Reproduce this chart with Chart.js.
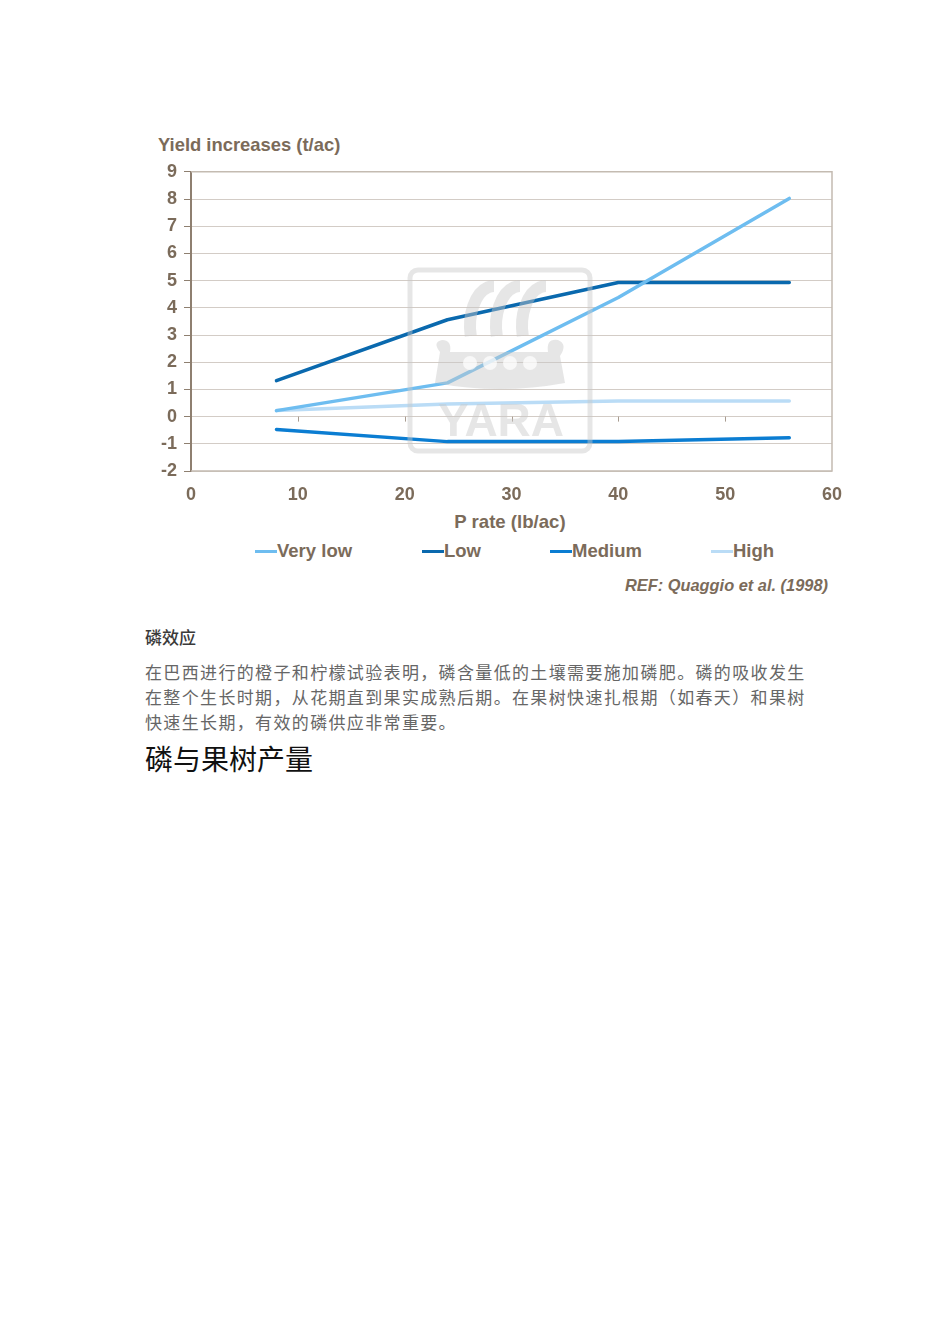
<!DOCTYPE html>
<html>
<head>
<meta charset="utf-8">
<script src="https://cdn.jsdelivr.net/npm/chart.js@4.4.1/dist/chart.umd.min.js"></script>
<style>
  html,body{margin:0;padding:0;background:#fff;}
  body{width:950px;height:1344px;position:relative;overflow:hidden;}
  .t{position:absolute;white-space:nowrap;font-family:"Liberation Sans",Arial,sans-serif;font-weight:bold;color:#7B6B5A;}
  #wrap{position:absolute;left:140px;top:154px;width:720px;height:356px;}
  .cjk{position:absolute;font-family:"Noto Sans CJK SC",sans-serif;white-space:nowrap;}
</style>
</head>
<body>
<div class="t" id="ytitle" style="left:158px;top:134px;font-size:18.4px;">Yield increases (t/ac)</div>
<div id="wrap"><canvas id="c" width="720" height="356"></canvas></div>
<div class="t" id="xtitle" style="left:0;width:1020px;text-align:center;top:511px;font-size:18.6px;">P rate (lb/ac)</div>
<div id="legend"></div>
<div class="t" style="right:122px;top:576px;font-size:16.4px;font-style:italic;">REF: Quaggio et al. (1998)</div>

<div class="cjk" style="left:145px;top:624px;font-size:17px;color:#3a3a3a;font-weight:500;">磷效应</div>
<div class="cjk" style="left:145px;top:659px;font-size:17px;line-height:25px;color:#666;letter-spacing:1.35px;">在巴西进行的橙子和柠檬试验表明，磷含量低的土壤需要施加磷肥。磷的吸收发生<br>在整个生长时期，从花期直到果实成熟后期。在果树快速扎根期（如春天）和果树<br>快速生长期，有效的磷供应非常重要。</div>
<div class="cjk" style="left:145px;top:738px;font-size:28px;color:#111;">磷与果树产量</div>

<script>
// ---- data ----
const seriesNames = ["Very low", "Low", "Medium", "High"];
const seriesColors = ["#6EBDF0", "#0A69AE", "#0B7DD2", "#BADCF6"];
const pRate = [8, 24, 40, 56];
const veryLow = [0.22, 1.24, 4.38, 8.02];
const low = [1.32, 3.56, 4.93, 4.93];
const medium = [-0.47, -0.92, -0.92, -0.78];
const high = [0.22, 0.46, 0.57, 0.57];
const xTicks = [0, 10, 20, 30, 40, 50, 60];
const yTicks = [-2, -1, 0, 1, 2, 3, 4, 5, 6, 7, 8, 9];

const seriesValues = [veryLow, low, medium, high];
const textColor = "#7B6B5A";

// legend (HTML)
const legendPos = [255, 422, 550, 711];
const lg = document.getElementById('legend');
seriesNames.forEach((n, i) => {
  const m = document.createElement('div');
  m.style.cssText = `position:absolute;left:${legendPos[i]}px;top:550px;width:22px;height:3px;background:${seriesColors[i]};`;
  lg.appendChild(m);
  const t = document.createElement('div');
  t.className = 't';
  t.style.cssText = `left:${legendPos[i] + 22}px;top:540px;font-size:18.5px;`;
  t.textContent = n;
  lg.appendChild(t);
});

const OX = 140, OY = 154;
const frame = {
  id: 'frame',
  beforeDatasetsDraw(chart) {
    const {ctx, chartArea: a, scales} = chart;
    ctx.save();
    ctx.strokeStyle = "#C4BBB1";
    ctx.lineWidth = 1.5;
    ctx.beginPath();
    ctx.moveTo(a.left, a.top); ctx.lineTo(a.right, a.top); ctx.lineTo(a.right, a.bottom); ctx.lineTo(a.left, a.bottom);
    ctx.stroke();
    // small ticks on zero line
    const y0 = scales.y.getPixelForValue(0);
    ctx.strokeStyle = "#A89C90";
    ctx.lineWidth = 1;
    [10, 20, 30, 40, 50].forEach(v => {
      const x = Math.round(scales.x.getPixelForValue(v)) + 0.5;
      ctx.beginPath(); ctx.moveTo(x, y0); ctx.lineTo(x, y0 + 5); ctx.stroke();
    });
    ctx.restore();
  },
  afterDatasetsDraw(chart) {
    // YARA watermark
    const ctx = chart.ctx;
    ctx.save();
    ctx.translate(-OX, -OY);
    const col = "rgba(200,200,200,0.45)";
    ctx.strokeStyle = col; ctx.fillStyle = col;
    ctx.lineWidth = 5;
    ctx.beginPath();
    ctx.roundRect(410, 270, 180, 181, 8);
    ctx.stroke();
    // sails
    ctx.lineWidth = 12;
    [472, 498, 524].forEach(cx => {
      ctx.beginPath();
      ctx.ellipse(cx + 22, 326, 24, 40, 0, Math.PI * 0.92, Math.PI * 1.5);
      ctx.stroke();
    });
    // hull
    ctx.beginPath();
    ctx.moveTo(440, 352);
    ctx.quadraticCurveTo(432, 342, 442, 340);
    ctx.quadraticCurveTo(452, 340, 450, 352);
    ctx.lineTo(548, 352);
    ctx.quadraticCurveTo(546, 338, 558, 340);
    ctx.quadraticCurveTo(568, 344, 560, 356);
    ctx.lineTo(565, 383);
    ctx.quadraticCurveTo(500, 395, 435, 383);
    ctx.closePath();
    ctx.fill();
    ctx.fillStyle = "rgba(255,255,255,0.7)";
    [470, 490, 510, 530].forEach(cx => { ctx.beginPath(); ctx.arc(cx, 363, 7, 0, Math.PI * 2); ctx.fill(); });
    ctx.fillStyle = col;
    ctx.font = "bold 46px 'Liberation Sans', Arial, sans-serif";
    ctx.textAlign = "center"; ctx.textBaseline = "alphabetic";
    ctx.fillText("YARA", 501, 436);
    ctx.restore();
  }
};

new Chart(document.getElementById('c'), {
  type: 'line',
  data: {
    datasets: seriesNames.map((n, i) => ({
      label: n,
      data: pRate.map((x, j) => ({x, y: seriesValues[i][j]})),
      borderColor: seriesColors[i],
      backgroundColor: seriesColors[i],
      borderWidth: 3.5,
      pointRadius: 0,
      tension: 0,
      borderCapStyle: 'round',
      borderJoinStyle: 'round'
    }))
  },
  options: {
    responsive: false,
    animation: false,
    layout: {padding: {top: 0, right: 28, left: 0, bottom: 0}},
    plugins: {legend: {display: false}, tooltip: {enabled: false}},
    scales: {
      x: {
        type: 'linear', min: 0, max: 60,
        afterBuildTicks(s) { s.ticks = xTicks.map(v => ({value: v})); },
        afterFit(s) { s.height = 39; },
        grid: {display: false, drawTicks: false},
        border: {display: false},
        ticks: {color: textColor, padding: 13, font: {family: "'Liberation Sans', Arial", size: 18, weight: 'bold'}, maxRotation: 0}
      },
      y: {
        min: -2, max: 9,
        afterBuildTicks(s) { s.ticks = yTicks.map(v => ({value: v})); },
        afterFit(s) { s.width = 51; },
        grid: {color: "#D3CCC6", lineWidth: 1, tickLength: 7, tickColor: "#8E7F70", drawOnChartArea: true},
        border: {display: true, color: "#8E7F70", width: 2},
        ticks: {color: textColor, padding: 7, font: {family: "'Liberation Sans', Arial", size: 18, weight: 'bold'}}
      }
    }
  },
  plugins: [frame]
});
</script>
</body>
</html>
